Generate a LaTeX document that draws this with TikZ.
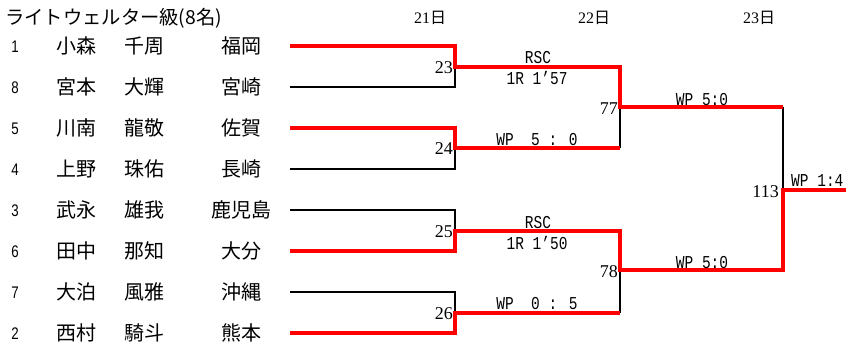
\documentclass[tikz,border=0pt]{standalone}
\usepackage{fontspec}
\setmainfont{Liberation Serif}
\newfontfamily\jpf{Noto Sans CJK JP}
\newfontfamily\monof{Liberation Mono}
\newfontfamily\sansf{Liberation Sans}
\newcommand{\tallres}[1]{\scalebox{1}[1.25]{#1}}
\newcommand{\tallseed}[1]{\scalebox{0.95}[1.2]{#1}}
\begin{document}
\begin{tikzpicture}[x=1pt,y=-1pt,
  redline/.style={draw=red, line width=4pt, line join=miter},
  blackline/.style={draw=black, line width=1.4pt},
  seed/.style={font=\sansf\fontsize{14}{14}\selectfont, anchor=base, inner sep=0},
  jname/.style={font=\jpf\fontsize{20}{20}\selectfont, anchor=base west, inner sep=0},
  pref/.style={font=\jpf\fontsize{20}{20}\selectfont, anchor=base, inner sep=0},
  mnum/.style={font=\fontsize{18}{18}\selectfont, anchor=base east, inner sep=0},
  res/.style={font=\monof\fontsize{14.5}{14.5}\selectfont, anchor=base, inner sep=0},
  hdr/.style={font=\fontsize{16}{16}\selectfont, anchor=base, inner sep=0}]
\useasboundingbox (0,0) rectangle (846,349);

% title and headers
\node[font=\jpf\fontsize{19.3}{19.3}\selectfont, anchor=base west, inner sep=0] (title) at (5,24) {ライトウェルター級(8名)};
\node[hdr] (d21) at (430,23) {21{\jpf 日}};
\node[hdr] (d22) at (594,23) {22{\jpf 日}};
\node[hdr] (d23) at (759,23) {23{\jpf 日}};

% players
\foreach \i/\s/\fa/\gi/\pr/\y in {
  1/1/小森/千周/福岡/46, 2/8/宮本/大輝/宮崎/87, 3/5/川南/龍敬/佐賀/128, 4/4/上野/珠佑/長崎/169,
  5/3/武永/雄我/鹿児島/210, 6/6/田中/那知/大分/251, 7/7/大泊/風雅/沖縄/292, 8/2/西村/騎斗/熊本/333} {
  \node[seed] (s\i) at (15,\y+6) {\tallseed{\s}};
  \node[jname] (f\i) at (56,\y+7.6) {\fa};
  \node[jname] (g\i) at (124,\y+7.6) {\gi};
  \node[pref] (r\i) at (241.5,\y+7.6) {\pr};
  \coordinate (p\i) at (290,\y);
}

% match points
\coordinate (m23) at (455,67);
\coordinate (m24) at (455,148);
\coordinate (m25) at (455,231);
\coordinate (m26) at (455,313);
\coordinate (m77) at (620,107);
\coordinate (m78) at (620,270);
\coordinate (m113) at (783,190);
\coordinate (fin) at (846,190);

% black lines
\draw[blackline] (p2) -| (m23);
\draw[blackline] (p4) -| (m24);
\draw[blackline] (p5) -| (m25);
\draw[blackline] (p7) -| (m26);
\draw[blackline] (m24 -| m77) -- (m77);
\draw[blackline] (m26 -| m78) -- (m78);
\draw[blackline] (m77 -| m113) -- (m113);

% red lines
\draw[redline] (p1) -| (m23) -| (m77) -- (m77 -| m113);
\draw[redline] (p3) -| (m24) -- (m24 -| m77);
\draw[redline] (p6) -| (m25) -| (m78) -| (m113) -- (fin);
\draw[redline] (p8) -| (m26) -- (m26 -| m78);

% match numbers
\node[mnum] (n23) at (453,73) {23};
\node[mnum] (n24) at (453,154) {24};
\node[mnum] (n25) at (453,237) {25};
\node[mnum] (n26) at (453,319) {26};
\node[mnum] (n77) at (618,114) {77};
\node[mnum] (n78) at (618,277) {78};
\node[mnum] (n113) at (779,197) {113};

% results
\node[res] (t23a) at (538,63) {\tallres{RSC}};
\node[res] (t23b) at (537,84) {\tallres{1R 1’57}};
\node[res] (t24) at (537,145) {\tallres{WP\ \ 5 : 0}};
\node[res] (t25a) at (538,228) {\tallres{RSC}};
\node[res] (t25b) at (537,249) {\tallres{1R 1’50}};
\node[res] (t26) at (537,309) {\tallres{WP\ \ 0 : 5}};
\node[res] (t77) at (702,105) {\tallres{WP 5:0}};
\node[res] (t78) at (702,268) {\tallres{WP 5:0}};
\node[res, anchor=base west] (t113) at (791,186) {\tallres{WP 1:4}};
\end{tikzpicture}
\end{document}
